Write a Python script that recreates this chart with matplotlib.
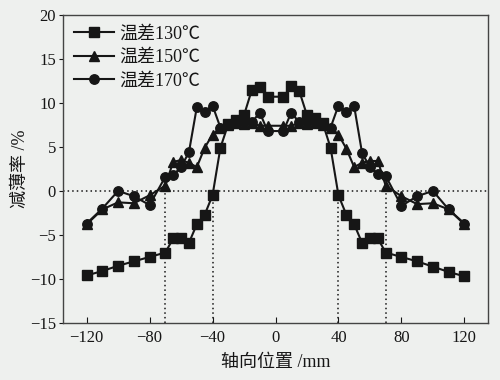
import matplotlib
matplotlib.use("Agg")
import matplotlib.pyplot as plt

# ======================
# DATA
# ======================
x_pos = [-120, -110, -100, -90, -80, -70, -65, -60, -55, -50, -45, -40,
         -35, -30, -25, -20, -15, -10, -5, 5, 10, 15, 20, 25, 30, 35,
         40, 45, 50, 55, 60, 65, 70, 80, 90, 100, 110, 120]

thin_130 = [-9.6, -9.1, -8.5, -8.0, -7.5, -7.0, -5.4, -5.4, -5.9, -3.8, -2.7, -0.5,
            4.9, 7.6, 8.1, 8.6, 11.5, 11.8, 10.7, 10.7, 11.9, 11.4, 8.6, 8.3, 7.7, 4.9,
            -0.5, -2.7, -3.8, -5.9, -5.4, -5.4, -7.0, -7.5, -8.0, -8.6, -9.2, -9.7]

thin_150 = [-3.8, -2.1, -1.3, -1.4, -0.5, 0.6, 3.3, 3.5, 3.2, 2.7, 4.9, 6.4,
            7.2, 7.5, 7.7, 7.6, 7.7, 7.4, 7.4, 7.4, 7.4, 7.7, 7.6, 7.7, 7.5, 7.2,
            6.4, 4.8, 2.7, 3.2, 3.4, 3.4, 0.6, -0.6, -1.5, -1.4, -2.1, -3.8]

thin_170 = [-3.7, -2.0, 0.0, -0.6, -1.6, 1.6, 1.8, 2.7, 4.4, 9.5, 9.0, 9.7,
            7.2, 7.6, 7.8, 8.0, 7.8, 8.9, 6.8, 6.8, 8.9, 7.8, 8.0, 7.8, 7.6, 7.2,
            9.7, 9.0, 9.6, 4.3, 2.7, 1.9, 1.7, -1.7, -0.6, 0.0, -2.1, -3.7]

labels = ["温差130℃", "温差150℃", "温差170℃"]
markers = ["s", "^", "o"]
guide_x = [-70, -40, 40, 70]

x_ticks = [-120, -80, -40, 0, 40, 80, 120]
y_ticks = [-15, -10, -5, 0, 5, 10, 15, 20]

# ======================
# STYLE
# ======================
FONT = ["Liberation Serif", "Noto Sans CJK SC"]
plt.rcParams["font.family"] = FONT
plt.rcParams["axes.unicode_minus"] = True
BG = "#eef0ee"
INK = "#161616"

fig = plt.figure(figsize=(5, 3.8), dpi=100, facecolor=BG)
ax = fig.add_axes([0.126, 0.15, 0.85, 0.811], facecolor=BG)

# ======================
# DRAW
# ======================
for ys, lab, mk in zip([thin_130, thin_150, thin_170], labels, markers):
    ax.plot(x_pos, ys, color=INK, lw=1.5, marker=mk, ms=6.8,
            mfc=INK, mec=INK, label=lab)

ax.axhline(0, color=INK, lw=1.1, ls=(0, (1, 2)), zorder=1)
for gx in guide_x:
    ax.plot([gx, gx], [-15, 0], color=INK, lw=1.1, ls=(0, (1, 2)), zorder=1)

ax.set_xlim(-135, 135)
ax.set_ylim(-15, 20)
ax.set_xticks(x_ticks)
ax.set_yticks(y_ticks)
ax.tick_params(axis="x", direction="in", length=4, colors=INK, labelsize=12, pad=5)
ax.tick_params(axis="y", direction="out", length=3, colors=INK, labelsize=12, pad=2)
for sp in ax.spines.values():
    sp.set_color("#444444")
    sp.set_linewidth(1.0)

ax.set_xlabel("轴向位置 /mm", fontsize=13, color=INK, labelpad=6)
ax.set_ylabel("减薄率 /%", fontsize=13, color=INK, labelpad=1)

leg = ax.legend(loc="upper left", frameon=False, fontsize=13, handlelength=2.2,
                handletextpad=0.3, labelspacing=0.35, borderaxespad=0.3,
                borderpad=0.3)
for t in leg.get_texts():
    t.set_color(INK)

fig.savefig("out.png", dpi=100, facecolor=BG)
